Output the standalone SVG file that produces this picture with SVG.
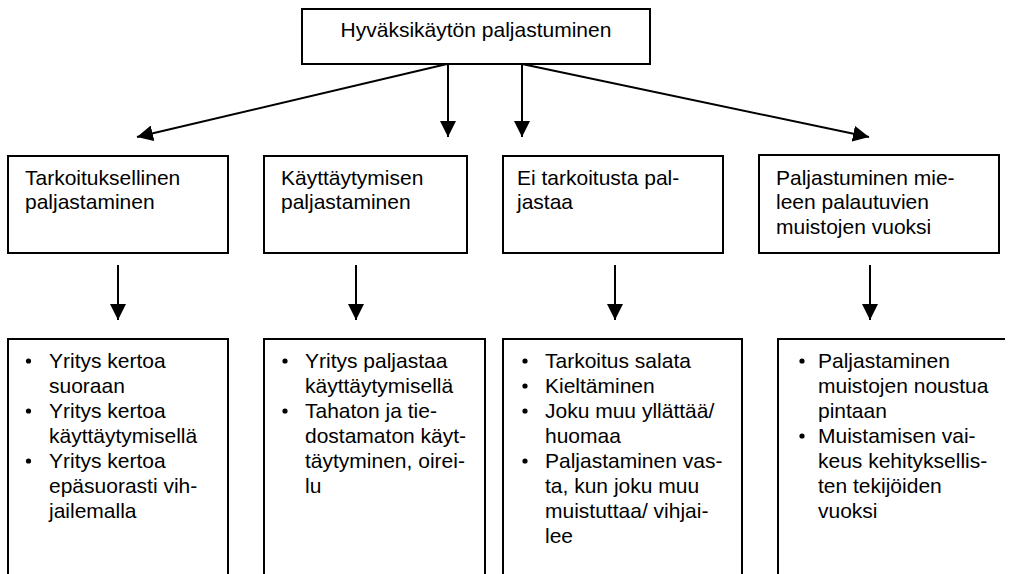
<svg xmlns="http://www.w3.org/2000/svg" width="1015" height="574" viewBox="0 0 1015 574">
<style>
.box{fill:#fff;stroke:#000;stroke-width:2}
.open{fill:none;stroke:#000;stroke-width:2}
.t{font-family:"Liberation Sans",Arial,sans-serif;font-size:21px;fill:#000}
.c{stroke:#000;stroke-width:2;fill:none;marker-end:url(#ah)}
.dot{fill:#000}
</style>
<defs>
<marker id="ah" viewBox="0 0 16 16" refX="16" refY="8" markerWidth="16" markerHeight="16" markerUnits="userSpaceOnUse" orient="auto">
<path d="M0,0 L16,8 L0,16 z" fill="#000"/>
</marker>
</defs>
<rect width="1015" height="574" fill="#fff"/>
<g id="connectors">
<line class="c" x1="447" y1="64" x2="137" y2="137"/>
<line class="c" x1="448" y1="64" x2="448" y2="137"/>
<line class="c" x1="522" y1="64" x2="522" y2="137"/>
<line class="c" x1="522" y1="64" x2="869" y2="137"/>
<line class="c" x1="118" y1="265" x2="118" y2="320"/>
<line class="c" x1="356" y1="265" x2="356" y2="320"/>
<line class="c" x1="615" y1="265" x2="615" y2="320"/>
<line class="c" x1="870" y1="265" x2="870" y2="320"/>
</g>
<g id="root">
<rect class="box" x="302" y="9" width="348" height="55"/>
<text class="t" x="476" y="36.5" text-anchor="middle">Hyväksikäytön paljastuminen</text>
</g>
<g id="cat1">
<rect class="box" x="8" y="156" width="220" height="97"/>
<text class="t" x="25" y="184.5">Tarkoituksellinen</text>
<text class="t" x="25" y="209">paljastaminen</text>
</g>
<g id="cat2">
<rect class="box" x="264" y="156" width="203" height="97"/>
<text class="t" x="281" y="184.5">Käyttäytymisen</text>
<text class="t" x="281" y="209">paljastaminen</text>
</g>
<g id="cat3">
<rect class="box" x="503" y="156" width="220" height="97"/>
<text class="t" x="517" y="184.5">Ei tarkoitusta pal-</text>
<text class="t" x="517" y="209">jastaa</text>
</g>
<g id="cat4">
<rect class="box" x="759" y="155" width="240" height="98"/>
<text class="t" x="776" y="184.5">Paljastuminen mie-</text>
<text class="t" x="776" y="209">leen palautuvien</text>
<text class="t" x="776" y="233.5">muistojen vuoksi</text>
</g>
<g id="list1">
<path class="open" d="M8,575 V339 H228 V575"/>
<circle class="dot" cx="28.5" cy="361" r="2.6"/>
<circle class="dot" cx="28.5" cy="411" r="2.6"/>
<circle class="dot" cx="28.5" cy="461" r="2.6"/>
<text class="t" x="49" y="368">Yritys kertoa</text>
<text class="t" x="49" y="393">suoraan</text>
<text class="t" x="49" y="418">Yritys kertoa</text>
<text class="t" x="49" y="443">käyttäytymisellä</text>
<text class="t" x="49" y="468">Yritys kertoa</text>
<text class="t" x="49" y="493">epäsuorasti vih-</text>
<text class="t" x="49" y="518">jailemalla</text>
</g>
<g id="list2">
<path class="open" d="M264,575 V339 H485 V575"/>
<circle class="dot" cx="285" cy="361" r="2.6"/>
<circle class="dot" cx="285" cy="411" r="2.6"/>
<text class="t" x="305" y="368">Yritys paljastaa</text>
<text class="t" x="305" y="393">käyttäytymisellä</text>
<text class="t" x="305" y="418">Tahaton ja tie-</text>
<text class="t" x="305" y="443">dostamaton käyt-</text>
<text class="t" x="305" y="468">täytyminen, oirei-</text>
<text class="t" x="305" y="493">lu</text>
</g>
<g id="list3">
<path class="open" d="M503,575 V339 H742 V575"/>
<circle class="dot" cx="525" cy="361" r="2.6"/>
<circle class="dot" cx="525" cy="386" r="2.6"/>
<circle class="dot" cx="525" cy="411" r="2.6"/>
<circle class="dot" cx="525" cy="461" r="2.6"/>
<text class="t" x="545" y="368">Tarkoitus salata</text>
<text class="t" x="545" y="393">Kieltäminen</text>
<text class="t" x="545" y="418">Joku muu yllättää/</text>
<text class="t" x="545" y="443">huomaa</text>
<text class="t" x="545" y="468">Paljastaminen vas-</text>
<text class="t" x="545" y="493">ta, kun joku muu</text>
<text class="t" x="545" y="518">muistuttaa/ vihjai-</text>
<text class="t" x="545" y="543">lee</text>
</g>
<g id="list4">
<path class="open" d="M778,575 V339 H1005"/>
<circle class="dot" cx="802" cy="361" r="2.6"/>
<circle class="dot" cx="802" cy="436" r="2.6"/>
<text class="t" x="818" y="368">Paljastaminen</text>
<text class="t" x="818" y="393">muistojen noustua</text>
<text class="t" x="818" y="418">pintaan</text>
<text class="t" x="818" y="443">Muistamisen vai-</text>
<text class="t" x="818" y="468">keus kehityksellis-</text>
<text class="t" x="818" y="493">ten tekijöiden</text>
<text class="t" x="818" y="518">vuoksi</text>
</g>
</svg>
